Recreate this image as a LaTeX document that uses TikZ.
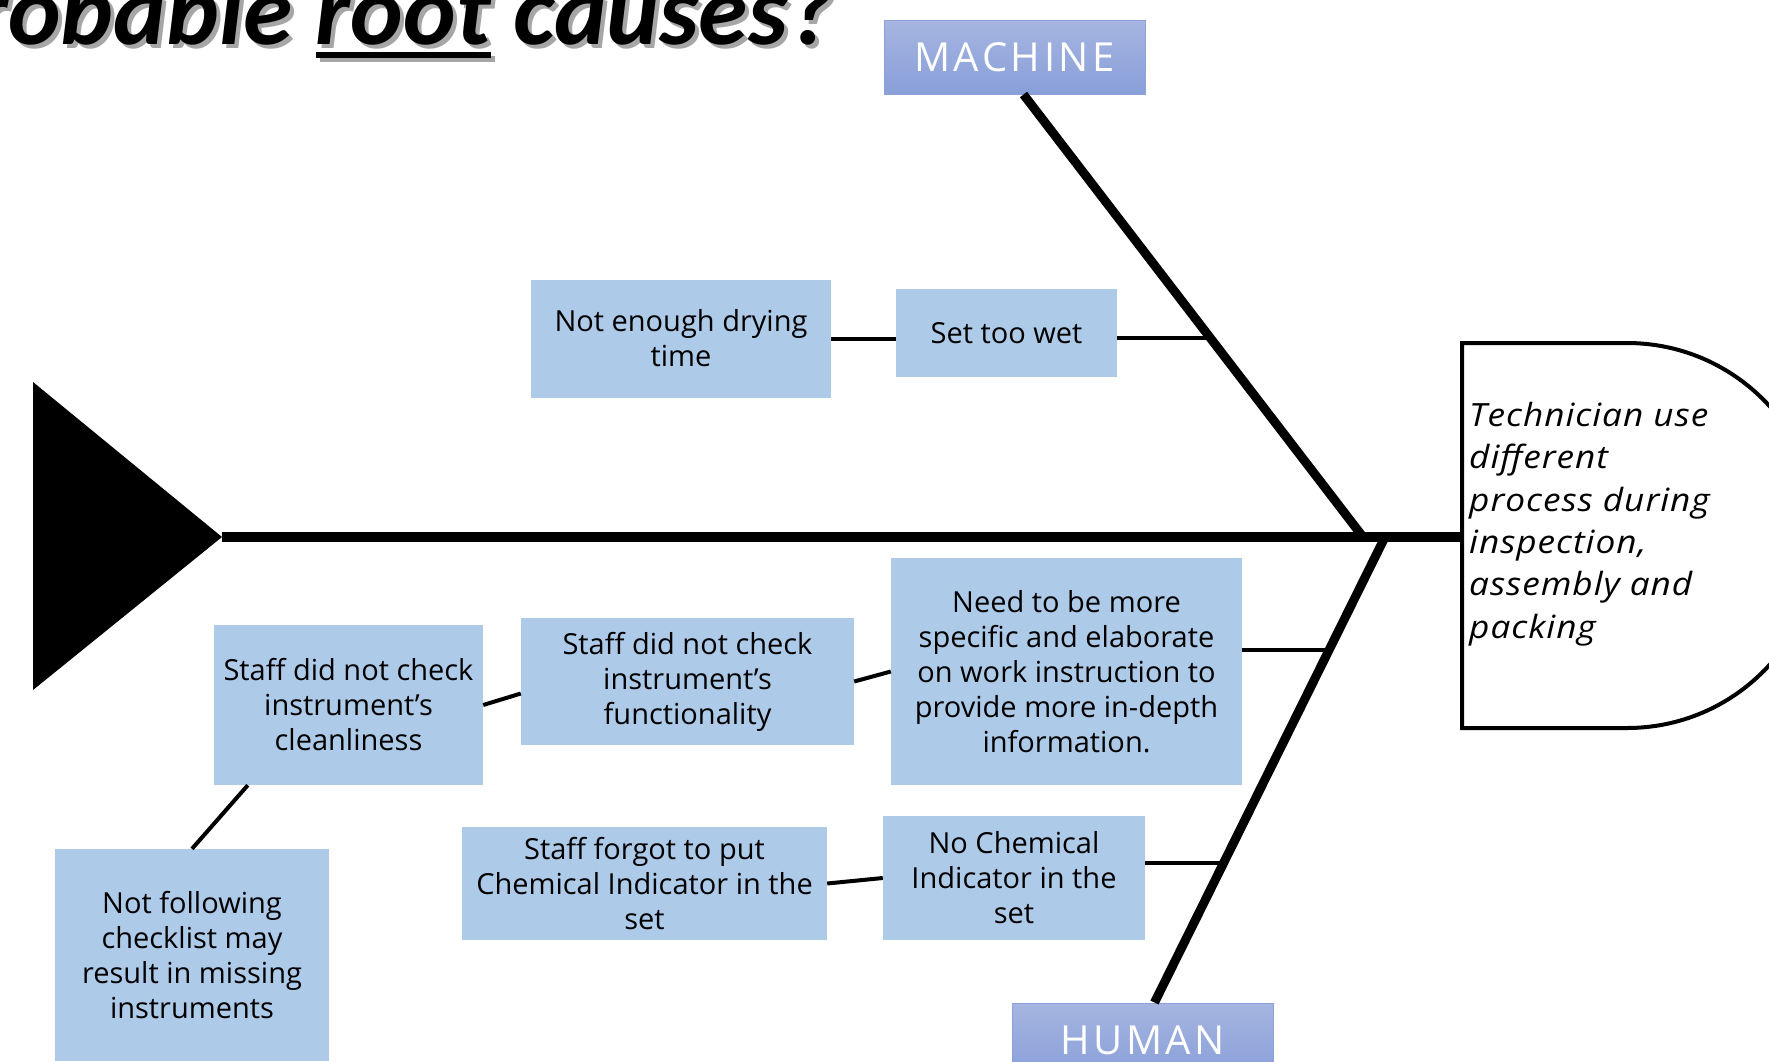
\documentclass[tikz,border=0pt]{standalone}
\usepackage{fontspec}
\setmainfont{Open Sans}
\newfontfamily\titlefont{Carlito}
\usepackage{tikz}

\definecolor{boxblue}{RGB}{173,203,233}
\definecolor{tabtop}{RGB}{166,181,225}
\definecolor{tabbottom}{RGB}{136,159,216}
\definecolor{tabedge}{RGB}{140,162,216}

\tikzset{
  cause/.style={fill=boxblue, inner sep=0pt, align=center, font=\fontsize{29}{35}\selectfont},
  tab/.style={top color=tabtop, bottom color=tabbottom, draw=tabedge, line width=1pt,
    minimum width=261pt, minimum height=74pt, inner sep=0pt, text=white,
    font=\addfontfeatures{LetterSpace=9}\fontsize{40}{45}\selectfont},
  titletext/.style={inner sep=0pt, anchor=base east, font=\titlefont\bfseries\itshape\fontsize{100}{106}\selectfont},
  bone/.style={line width=9pt},
  twig/.style={line width=4pt}
}
\newcommand{\ulword}[1]{\setbox0\hbox{#1}\rlap{\rule[-14pt]{\wd0}{6pt}}\box0{}}

\begin{document}
\begin{tikzpicture}[x=1pt, y=-1pt]
    \useasboundingbox (0,0) rectangle (1769,1061);
    \clip (0,0) rectangle (1769,1061);
    \node [titletext, text=black!35] (titleshadow) at (838,48) {Probable \ulword{root} causes?};
    \node [titletext] (title) at (834,44) {Probable \ulword{root} causes?};

    \fill (33,382) -- (222,537) -- (33,690) -- cycle;
    \coordinate (tail) at (222,537);
    \coordinate (headw) at (1462,537);
    \draw [line width=10pt] (tail) -- (headw);
    \draw [line width=4pt, fill=white] (1462,343) -- (1627,343)
        arc [start angle=90, end angle=-90, radius=192.5pt] -- (1462,728) -- cycle;
    \node [inner sep=0pt, anchor=west, align=left,
        font=\itshape\addfontfeatures{FakeStretch=1.1, LetterSpace=3}\fontsize{32}{42.3}\selectfont] (effect) at (1469,524)
        {Technician use\\different\\process during\\inspection,\\assembly and\\packing};

    \node [tab] (machine) at (1014.5,57) {MACHINE};
    \node [tab] (human) at (1142.5,1040) {HUMAN};
    \coordinate (mhead) at (1363,537);
    \coordinate (hhead) at (1385,537);
    \draw [bone] ([xshift=9pt]machine.south) -- (mhead);
    \draw [bone] ([xshift=12pt]human.north) -- (hhead);

    \node [cause, minimum width=300pt, minimum height=118pt] (drying) at (681,338.5) {Not enough drying\\time};
    \node [cause, minimum width=221pt, minimum height=88pt] (wet) at (1006.5,333) {Set too wet};
    \node [cause, minimum width=351pt, minimum height=227pt] (specific) at (1066.5,671.5)
        {Need to be more\\specific and elaborate\\on work instruction to\\provide more in-depth\\information.};
    \node [cause, minimum width=333pt, minimum height=127pt] (function) at (687.5,681.5)
        {Staff did not check\\instrument’s\\functionality};
    \node [cause, minimum width=269pt, minimum height=160pt] (clean) at (348.5,705)
        {Staff did not check\\instrument’s\\cleanliness};
    \node [cause, minimum width=274pt, minimum height=212pt] (checklist) at (192,955)
        {Not following\\checklist may\\result in missing\\instruments};
    \node [cause, minimum width=365pt, minimum height=113pt] (forgot) at (644.5,883.5)
        {Staff forgot to put\\Chemical Indicator in the\\set};
    \node [cause, minimum width=262pt, minimum height=124pt] (nochem) at (1014,878)
        {No Chemical\\Indicator in the\\set};

    \coordinate (mw) at (1212,338);
    \coordinate (hs) at (1329,649.5);
    \coordinate (hn) at (1224,863);
    \draw [twig] ([yshift=-5pt]wet.east) -- (mw);
    \draw [twig] (drying.east) -- (drying.east -| wet.west);
    \draw [twig] ([yshift=22pt]specific.east) -- (hs);
    \draw [twig] (function.east) -- (specific.west);
    \draw [twig] (clean.east) -- ([yshift=-12pt]function.west);
    \draw [twig] ([xshift=34pt]clean.south west) -- (checklist.north);
    \draw [twig] ([yshift=15pt]nochem.east) -- (hn);
    \draw [twig] (forgot.east) -- (nochem.west);
\end{tikzpicture}
\end{document}
